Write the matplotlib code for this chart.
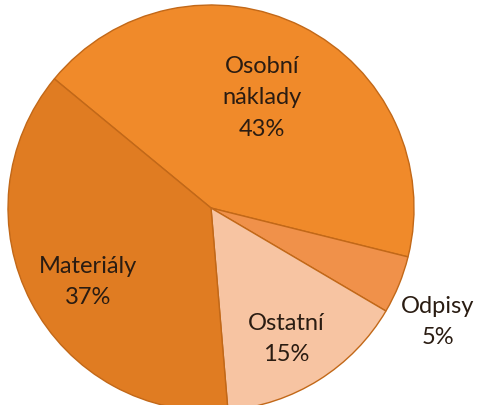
import matplotlib
matplotlib.use("Agg")
import matplotlib.pyplot as plt

labels = ["Osobní\nnáklady", "Odpisy", "Ostatní", "Materiály"]
values = [42.9, 4.6, 15.2, 37.3]
colors = ["#F08A2A", "#F0914A", "#F7C4A2", "#E07C22"]

label_pos = [(0.251, 0.547), (1.118, -0.557), (0.369, -0.64), (-0.606, -0.36)]

fig = plt.figure(figsize=(4.81, 4.06), dpi=100)
cx, cy, r = 211, 209, 203
ax = fig.add_axes([(cx - r) / 481, (406 - cy - r) / 406, 2 * r / 481, 2 * r / 406])

wedges, _ = ax.pie(values, colors=colors, startangle=140.5, counterclock=False,
                   radius=1, wedgeprops=dict(edgecolor="#C26818", linewidth=1.0))
ax.set_xlim(-1, 1)
ax.set_ylim(-1, 1)
ax.set_aspect("equal")
ax.axis("off")
for w in wedges:
    w.set_clip_on(False)

total = sum(values)
for lab, v, (x, y) in zip(labels, values, label_pos):
    ax.text(x, y, f"{lab}\n{round(v / total * 100)}%", ha="center", va="center",
            fontsize=17, family="Lato", color="#2A1C12", linespacing=1.6,
            clip_on=False)

fig.savefig("out.png", dpi=100)
